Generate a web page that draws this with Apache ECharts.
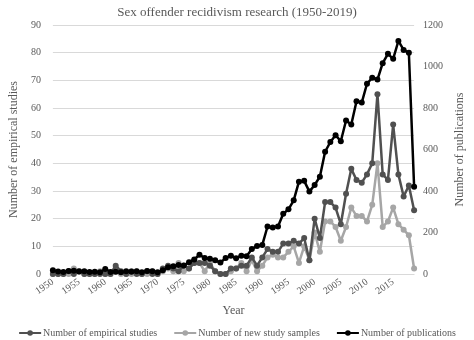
<!DOCTYPE html>
<html>
<head>
<meta charset="utf-8">
<script src="https://cdn.jsdelivr.net/npm/echarts@6/dist/echarts.min.js"></script>
<style>html,body{margin:0;padding:0;background:#fff}#c{width:474px;height:340px}</style>
</head>
<body>
<div id="c"></div>
<script>
const years = [];
for (let y = 1950; y <= 2019; y++) years.push(String(y));

const empiricalStudies = [
  0,0,0,1,0,1,0,0,0,0, 0,0,3,1,0,1,0,0,1,0,
  0,2,3,2,1,3,2,4,4,4, 3,1,0,0,2,2,3,3,6,3,
  6,9,8,8,11,11,12,11,13,5, 20,13,26,26,24,18,29,38,34,33,
  36,40,65,36,34,54,36,28,32,23
];
const newSamples = [
  0,0,0,0,2,1,0,0,0,1, 0,0,2,0,0,0,1,0,0,1,
  0,1,2,1,4,1,2,4,4,1, 4,1,0,0,1,2,4,1,5,1,
  3,6,7,6,6,8,10,4,10,5, 15,8,19,19,17,12,17,24,21,21,
  19,25,40,17,19,24,18,16,14,2
];
const publications = [
  18,12,10,14,16,12,13,10,11,8, 24,10,11,8,13,11,13,8,15,13,
  9,18,32,37,43,41,57,70,93,77, 73,66,55,77,88,76,88,86,120,135,
  140,229,224,229,290,312,355,445,449,397, 429,469,589,636,669,640,740,720,833,826,
  917,946,937,1016,1061,1037,1123,1080,1066,421
];

const serif = '"Liberation Serif", "Times New Roman", serif';
const txt = '#595959';

const chart = echarts.init(document.getElementById('c'), null, {renderer: 'canvas'});
chart.setOption({
  animation: false,
  title: {
    text: 'Sex offender recidivism research (1950-2019)',
    left: 'center', top: 1,
    textStyle: {fontFamily: serif, fontSize: 13, fontWeight: 'normal', color: txt}
  },
  legend: {
    bottom: 2, left: 'center', padding: [0, 5],
    itemWidth: 22, itemHeight: 7, itemGap: 16,
    textStyle: {fontFamily: serif, fontSize: 10, color: txt, padding: [0, 0, 0, -3]},
    data: ['Number of empirical studies', 'Number of new study samples', 'Number of publications']
  },
  grid: {left: 40, right: 46, top: 25, bottom: 66},
  xAxis: {
    type: 'category', data: years, boundaryGap: false,
    name: 'Year', nameLocation: 'middle', nameGap: 31,
    nameTextStyle: {fontFamily: serif, fontSize: 12, color: txt},
    axisLine: {lineStyle: {color: '#d9d9d9'}},
    axisTick: {show: false},
    axisLabel: {interval: 4, rotate: 35, fontFamily: serif, fontSize: 10, color: txt, margin: 7}
  },
  yAxis: [{
    type: 'value', min: 0, max: 90, interval: 10,
    name: 'Number of empirical studies', nameLocation: 'middle', nameGap: 30, nameRotate: 90,
    nameTextStyle: {fontFamily: serif, fontSize: 12, color: txt},
    axisLabel: {fontFamily: serif, fontSize: 10, color: txt, margin: 12},
    axisLine: {show: false}, axisTick: {show: false},
    splitLine: {lineStyle: {color: '#d9d9d9', width: 1}}
  }, {
    type: 'value', min: 0, max: 1200, interval: 200, position: 'right',
    name: 'Number of publications', nameLocation: 'middle', nameGap: 36, nameRotate: 90,
    nameTextStyle: {fontFamily: serif, fontSize: 12, color: txt},
    axisLabel: {fontFamily: serif, fontSize: 10, color: txt, margin: 9, formatter: v => String(v)},
    axisLine: {show: false}, axisTick: {show: false},
    splitLine: {show: false}
  }],
  series: [{
    name: 'Number of empirical studies', type: 'line', yAxisIndex: 0,
    data: empiricalStudies, symbol: 'circle', symbolSize: 6, showAllSymbol: true,
    itemStyle: {color: '#505050'}, lineStyle: {color: '#505050', width: 2.5}, z: 3
  }, {
    name: 'Number of new study samples', type: 'line', yAxisIndex: 0,
    data: newSamples, symbol: 'circle', symbolSize: 6, showAllSymbol: true,
    itemStyle: {color: '#a6a6a6'}, lineStyle: {color: '#a6a6a6', width: 2.5}, z: 2
  }, {
    name: 'Number of publications', type: 'line', yAxisIndex: 1,
    data: publications, symbol: 'circle', symbolSize: 6, showAllSymbol: true,
    itemStyle: {color: '#000000'}, lineStyle: {color: '#000000', width: 2.5}, z: 4
  }]
});
</script>
</body>
</html>
